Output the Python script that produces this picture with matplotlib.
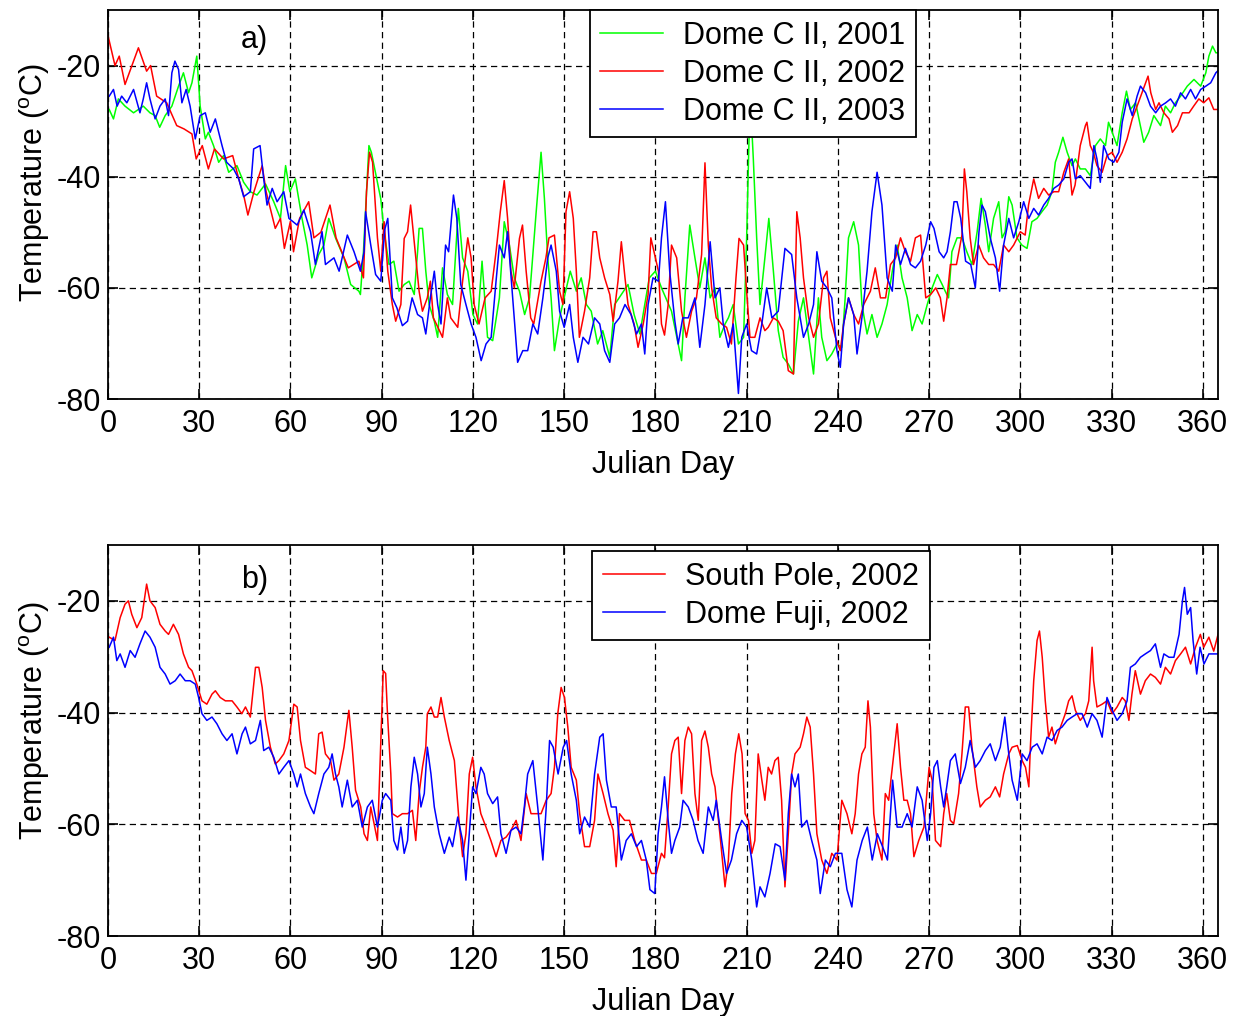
import numpy as np
import matplotlib
matplotlib.use('Agg')
import matplotlib.pyplot as plt

plt.rcParams['font.family'] = ['Liberation Sans', 'DejaVu Sans']
plt.rcParams['mathtext.default'] = 'regular'
plt.rcParams['axes.unicode_minus'] = False

# (julian day, temperature degC)
dome_c_2001 = [
    (0.4, -27.9), (1.8, -29.6), (3.4, -26), (5.6, -27.3), (8.4, -28.5), (11.6, -27.3), (13.8, -28.5),
    (15.5, -29), (17, -31.1), (18.8, -29), (21, -27.3), (23.2, -23.7), (24.8, -21.3), (26.5, -24.9),
    (27.6, -23.1), (29.2, -18.3), (30.3, -27.3), (32, -33.2), (33, -32), (34.7, -34.4), (36.4, -37.4),
    (38, -36.2), (39.7, -39.2), (42.4, -38), (44.6, -41), (46.8, -42.7), (49, -43.3), (51.8, -41.3),
    (54.5, -44.5), (56.7, -47.5), (58.4, -38), (59.8, -42.7), (61.6, -40.4), (63.8, -47.5), (65.5, -52.3),
    (67, -58.2), (69.3, -54), (71, -52.3), (72.6, -47.5), (74.8, -51), (77.6, -54.6), (79.8, -59.4),
    (82.5, -60.6), (83, -61.2), (84, -53.5), (85, -42.7), (85.8, -34.4), (86.6, -35.6), (88.6, -41),
    (89.7, -44), (90.8, -49.9), (92.4, -55.8), (94, -55.2), (95.7, -60.6), (97.4, -59.4), (99, -58.8),
    (100.7, -61.2), (101.8, -53.5), (102.3, -49.3), (103.4, -49.3), (104.5, -57), (105.6, -63),
    (107.3, -66), (108.4, -68.9), (110, -56.4), (111.6, -61.2), (113.3, -63), (115.2, -45.7),
    (116.6, -54.6), (118.3, -57), (120, -64.8), (121.5, -66.5), (123, -55.2), (124.8, -68.9),
    (126.5, -69.5), (128.7, -61.8), (130.3, -48.1), (132, -52.3), (133.6, -58.2), (135.3, -60.6),
    (137, -64.8), (138.6, -61.8), (140.8, -46.3), (142.4, -35.6), (143.5, -43.9), (144.6, -54.6),
    (145.7, -61.8), (146.8, -71.3), (148.5, -65.4), (150, -61.8), (152, -57), (154, -60.6),
    (155.6, -58.2), (157.3, -63), (158.9, -64.2), (161, -70.1), (162.7, -67.7), (165, -72.5),
    (166.6, -63), (168.8, -61.2), (171, -59.4), (173, -64.8), (174.9, -68.3), (176.5, -63), (178, -58.2),
    (180, -57), (182, -60), (185.3, -64.2), (188.6, -73.1), (189.7, -61.8), (191.3, -48.7), (193, -54.6),
    (194.6, -60), (196.3, -54.6), (198, -61.8), (199.6, -60), (201.2, -68.9), (202.9, -66.5), (204, -65.4),
    (205.6, -63), (207.3, -70.1), (209, -68.9), (210, -51.1), (210.8, -33), (211.4, -28), (212.2, -36.8),
    (213.3, -51), (214.4, -63), (216, -54.6), (217.3, -47.5), (218.8, -57), (220.4, -67.7), (222, -72.5),
    (223.7, -73.7), (225.4, -75.5), (227, -66), (228.7, -61.8), (230.4, -68.9), (232, -75.5),
    (233.6, -61.8), (234.7, -68.9), (236.4, -73.1), (238, -71.9), (239.7, -70.1), (241.3, -70.7),
    (242.4, -61.8), (243.5, -51), (245.2, -48.1), (246.8, -52.3), (247.9, -63), (249.6, -68.3),
    (251.2, -64.8), (252.9, -68.9), (254.5, -66.5), (256.2, -63), (257.9, -57), (259.5, -52.3),
    (261.1, -58.2), (262.8, -61.8), (264.4, -67.7), (266.1, -64.8), (267.7, -66.5), (269.4, -63),
    (271, -60), (272.7, -57.6), (274.3, -59.4), (275.3, -60.6), (276.4, -61.8), (277.5, -53.5),
    (279.2, -51), (280.8, -51), (282.4, -53.5), (284.1, -55.8), (285.8, -49.9), (287.1, -43.9),
    (288.5, -48.7), (289.6, -53.5), (291.2, -47.5), (292.9, -44.5), (294, -51), (295, -49.9),
    (296.2, -43.6), (297.3, -45.1), (298.9, -51), (300.5, -52.3), (302.2, -52.9), (303.8, -48.1),
    (305.5, -47.5), (307.1, -46.3), (308.8, -45.1), (310.4, -42.7), (311.5, -37.4), (312.6, -35.6),
    (314, -32.9), (315.4, -35.6), (317, -38), (318.1, -36.8), (319.7, -38.6), (321.4, -38.6),
    (323, -39.8), (324.7, -34.4), (326.3, -33.2), (328, -34.4), (329, -30.2), (330.2, -32),
    (331.8, -34.4), (333.5, -28.5), (334.9, -24.6), (336.2, -27.9), (337.9, -26.7), (339, -29.6),
    (340.6, -33.8), (342.2, -32), (343.9, -29), (346.1, -30.8), (347.7, -27.3), (349.4, -28.5),
    (351, -26.7), (352.7, -25.5), (354.9, -23.7), (357.1, -22.5), (359.3, -23.7), (361, -21.3),
    (362, -18.3), (363.2, -16.5), (364.3, -17.7), (365.4, -17.7),
]

dome_c_2002 = [
    (0, -14.6), (2.3, -20), (3.7, -18.3), (5.6, -23.4), (10, -16.8), (12.7, -21), (14, -20), (16, -25.5),
    (19.3, -26.7), (22.6, -30.8), (25, -31.4), (27.6, -32.3), (29, -36.8), (31, -34.4), (33, -38.6),
    (35, -35), (38, -36.8), (41, -36.2), (43, -40.4), (44.6, -43.3), (46, -46.9), (48, -42.7),
    (50.7, -38), (52, -42.7), (55, -49.3), (56.7, -47.5), (58, -52.9), (60, -48), (61, -53.5),
    (63, -47.5), (66, -44.5), (67.7, -51), (70, -50), (73, -45.1), (75, -51), (79, -56.4),
    (82.5, -55.2), (84, -58.2), (85, -42.7), (86, -35.6), (87, -37.4), (88.6, -51), (89.7, -57),
    (90.8, -48.1), (92, -57), (93.5, -63), (94.6, -66), (96.3, -63), (97.4, -51.1), (98.5, -49.9),
    (99.5, -45.1), (101, -53.5), (102.3, -60.6), (103.4, -64.2), (105, -61.8), (106, -58.8),
    (107, -65.4), (109, -67.7), (110, -68.9), (111.6, -61.8), (112.7, -65.4), (115, -67.1),
    (116.6, -58.8), (118.3, -51), (119.4, -54.6), (120.4, -63), (122, -66.5), (124, -61.8),
    (126, -60.6), (127.6, -53.5), (129, -46.3), (130.3, -40.7), (131.4, -47.5), (132.5, -57),
    (133.6, -60), (135.3, -51.1), (136.3, -48.7), (137.5, -57), (139, -65.4), (140, -66.5),
    (142.4, -58.8), (144, -54.6), (145, -51), (146.8, -50.5), (148.5, -60.6), (149.6, -63),
    (150.6, -46.3), (151.8, -42.7), (153, -47.5), (154, -57), (155, -68.9), (156.7, -64.2),
    (158.4, -58.2), (159.5, -49.9), (160.6, -49.9), (161.7, -54.6), (163.3, -58.2), (165, -61.2),
    (166.1, -66), (167.7, -58.8), (168.8, -51.7), (170, -58.2), (171, -63), (173, -66.5),
    (174.3, -70.7), (176, -66.5), (177.6, -61.2), (178.5, -51), (180, -54.6), (181, -57),
    (182, -66.5), (183, -68.5), (184.2, -63), (185.3, -52.3), (187, -54.6), (188.6, -64.2),
    (190.2, -68.9), (191.9, -64.2), (193.5, -61.8), (195.2, -54), (196.3, -37.5), (197.4, -52.3),
    (198.5, -60), (200, -65.4), (201.8, -66.5), (203.4, -67.1), (205, -70.1), (206.5, -58.2),
    (207.5, -51.1), (209, -52.3), (210, -60.6), (211.1, -68.9), (212.7, -68.9), (214.4, -65.4),
    (216, -67.7), (217.1, -67.1), (218.8, -65.4), (220.4, -66), (222, -67.7), (223.7, -74.9),
    (225.4, -75.5), (226.5, -46.3), (227.6, -51), (228.7, -58.2), (230.4, -65.4), (232, -68.9),
    (233.6, -66.5), (235.3, -58.2), (236.4, -57), (237.5, -65.4), (239.2, -68.9), (240.8, -71.3),
    (241.9, -66.5), (243.5, -61.8), (245.2, -64.8), (246.8, -66.5), (248.5, -63), (250.7, -60.6),
    (252.3, -56.4), (254, -61.8), (255.7, -61.8), (257.3, -55.8), (259, -54.6), (260.6, -51),
    (262.2, -53.5), (263.9, -55.2), (265.5, -51), (267.2, -50.5), (268.9, -61.8), (270.5, -61.2),
    (272.2, -60), (273.7, -61.8), (274.8, -66), (275.9, -61.8), (277, -55.8), (279, -55.8),
    (280.8, -50.5), (281.6, -38.6), (282.4, -42.7), (283.5, -51), (284.6, -55.8), (286.3, -52.3),
    (287.9, -54.6), (289.6, -55.8), (291.2, -55.8), (292.9, -57), (294.5, -52.3), (296.2, -53.5),
    (297.8, -52.3), (300, -49.9), (301.6, -50.5), (302.7, -45.1), (304.4, -40.4), (306, -43.9),
    (307.7, -42.1), (309.3, -43.3), (311, -42.7), (312.6, -42.7), (314.3, -39.2), (315.9, -36.8),
    (317, -43.3), (318, -41.5), (319.7, -34.4), (321.4, -30.8), (321.9, -30.2), (323, -34.4),
    (324, -35.6), (325.2, -38), (326.9, -39.2), (328.5, -36.2), (330.2, -35.6), (331.8, -37.4),
    (333.5, -35.6), (335.1, -33.2), (336.8, -29.6), (338.4, -27.3), (340, -24.9), (342, -21.9),
    (342.9, -24.9), (344.5, -27.9), (345.6, -26.7), (347.2, -28.5), (348.9, -29.6), (350, -32),
    (351.7, -30.8), (353.3, -28.5), (355.5, -28.5), (357, -27.3), (358.7, -26), (360.3, -26.7),
    (362, -25.8), (363.6, -27.9), (365.2, -27.9),
]

dome_c_2003 = [
    (0.4, -25.5), (1.8, -24.3), (3, -27.3), (4.5, -25.5), (6.2, -26.7), (8.4, -24.3), (10.5, -28.5),
    (11.6, -26), (12.7, -23.1), (13.8, -26), (15.5, -29.6), (17.1, -27.3), (18.8, -26), (19.9, -29),
    (21, -21.3), (22, -19.2), (23.2, -20.7), (24.3, -26.7), (25.7, -24.3), (27, -27.3), (28.7, -33.2),
    (30.3, -29), (32, -28.5), (33.6, -32), (35.3, -29.6), (37.5, -34.4), (39, -37.4), (41.3, -38.6),
    (43, -40.4), (44.6, -43.6), (46.8, -42.7), (47.9, -35), (50, -34.4), (51.2, -40.4), (52.3, -45.1),
    (54, -42.1), (55.6, -44.5), (57.8, -42.7), (59.5, -47.5), (62.2, -48.7), (64.4, -46), (66.6, -49.9),
    (68.2, -55.8), (70.4, -49.9), (71.5, -55.8), (74.3, -54.6), (76, -57), (78.7, -50.5), (80.9, -53.5),
    (83, -57), (84.2, -53.5), (84.7, -46.3), (86.4, -52.3), (88, -57.6), (89.7, -58.8), (91, -49.5),
    (92, -47.5), (93.5, -61.8), (95, -63.6), (96.8, -66.8), (98.5, -66), (100, -61.8), (101.8, -64.8),
    (103.4, -65.4), (104.5, -68.3), (106, -61.8), (107.3, -57), (108.4, -63), (109.5, -66.5),
    (111, -52.3), (112, -53.5), (113.6, -43.3), (114.7, -47.5), (116, -59.4), (117.7, -63),
    (119.4, -66.5), (121, -68.9), (122.7, -73.1), (124.3, -70.1), (126, -68.9), (127.6, -58.8),
    (128.7, -52.3), (130.3, -54.6), (131.4, -49.9), (133, -61.2), (134.7, -73.4), (136.4, -71.3),
    (138, -71.3), (139.7, -66.5), (141.3, -68.3), (143, -61.8), (144.6, -54.6), (145.7, -52.3),
    (147.4, -57), (148.5, -64.2), (150, -67.1), (151.8, -63), (153, -68.9), (154.5, -73.4),
    (156.2, -68.9), (158, -70.1), (160, -65.4), (161.7, -66.5), (163.3, -71.3), (165, -73.4),
    (166.6, -66.5), (168.2, -65.4), (170, -63), (172, -64.8), (173.8, -68.3), (175.4, -66.5),
    (176.5, -71.9), (177.6, -63), (179.2, -58.2), (181, -58.8), (182, -51), (183.3, -44.5),
    (184.7, -57), (186.4, -66), (187.5, -70.1), (189, -65.4), (190.8, -65.4), (193, -61.8),
    (194.6, -70.7), (196.3, -63), (198, -51.7), (199.6, -61.8), (201.2, -60), (202.3, -66.5),
    (204, -70.7), (205.6, -66.5), (207.3, -79), (208.4, -68.9), (210, -66.5), (211.6, -71.3),
    (213.3, -71.9), (215, -66.5), (216.6, -60), (218.3, -65.4), (220.4, -64.2), (222.6, -52.9),
    (224.8, -54), (226.5, -61.8), (228.7, -68.9), (230.4, -66.5), (232, -63), (233.1, -53.5),
    (234.7, -58.8), (236.4, -60), (238, -61.8), (239.7, -71.3), (240.8, -74.3), (241.9, -66.5),
    (243.5, -61.8), (245.2, -64.8), (246.3, -71.9), (247.9, -65.4), (249.6, -57), (251.2, -46.3),
    (252.9, -39.2), (254.5, -45.1), (256.2, -58.2), (257.9, -60.6), (259, -52.3), (260.6, -55.8),
    (262.2, -52.9), (263.9, -55.8), (265.5, -56.4), (267.2, -55.2), (268.9, -52.3), (270.5, -48.1),
    (271.6, -49.3), (273.3, -53.5), (274.8, -54.6), (275.9, -53.5), (277, -49.9), (278.2, -44.5),
    (279.2, -44.5), (280.4, -47.5), (282, -55.2), (283.7, -55.8), (285.2, -60), (286.4, -49.9),
    (287.4, -45.1), (288.5, -46.3), (290.1, -51), (291.8, -54.6), (293.2, -60.6), (294.5, -52.3),
    (296.2, -47.5), (297.8, -51), (299.5, -48.1), (301.1, -44.5), (302.8, -47.5), (304.4, -45.7),
    (306, -46.9), (307.7, -45.1), (309.3, -43.9), (311, -42.1), (312.6, -41.5), (314.3, -40.4),
    (315.9, -37.4), (317, -36.8), (318.1, -40.4), (319.7, -39.8), (321.4, -41), (323, -42.1),
    (324.2, -34.4), (325.2, -36.8), (326.3, -41), (327.4, -34.4), (329.1, -36.8), (330.7, -37.4),
    (332.4, -35.6), (333.5, -30.2), (335.1, -26), (336.8, -29), (338.4, -25.5), (339.5, -23.7),
    (341.2, -24.9), (342.8, -27.3), (344.5, -28.5), (346.1, -27.3), (347.8, -26.7), (349.4, -26),
    (351, -27.3), (352.7, -24.9), (354.3, -26), (356, -24.3), (357.6, -26), (359.3, -24.3),
    (361, -23.7), (362.6, -23.1), (364.3, -21.3), (365.4, -20.7),
]

south_pole_2002 = [
    (0.4, -26.5), (2.3, -27.1), (4, -23), (5.6, -20.6), (6.7, -20), (7.8, -22.4), (9.5, -24.8),
    (11.1, -23), (12.7, -17), (13.8, -20), (15.5, -21.2), (17.1, -24.2), (18.8, -25.4), (19.9, -26),
    (21.5, -24.2), (23.2, -26), (24.8, -29.5), (26.5, -31.9), (27.6, -32.5), (29.2, -34.9),
    (30.9, -37.9), (32.5, -38.5), (34.2, -36.7), (35.3, -36.1), (36.9, -37.3), (38.6, -37.9),
    (40.8, -37.9), (42.4, -39), (44, -40.2), (45.2, -39), (46.8, -40.8), (48.5, -31.9), (49.6, -31.9),
    (50.7, -35.5), (51.8, -41.4), (53.4, -46.2), (55, -49.2), (56.2, -48.6), (57.8, -47.4), (59.5, -45),
    (61.1, -38.5), (62.2, -39), (63.3, -45), (64.9, -49.8), (66.6, -50.4), (68.2, -51), (69.3, -43.8),
    (70.4, -43.5), (71.5, -47.4), (73.2, -48.6), (74.3, -52.1), (75.9, -51), (77.6, -46.2),
    (79.2, -39.6), (80.3, -46.2), (81.4, -53.9), (83.1, -56.9), (84.2, -61.7), (85.3, -62.9),
    (86.4, -56.9), (87.5, -59.9), (88.6, -62.9), (89.7, -45), (90.5, -32.5), (91.3, -33), (91.9, -40.2),
    (93, -51), (93.5, -58.1), (95.2, -58.7), (96.8, -58.1), (98.5, -58.1), (100.1, -57.5),
    (101.2, -62.9), (102.3, -54.5), (103.4, -49.8), (104.5, -46.2), (105, -40.2), (106.2, -39),
    (107.3, -40.8), (108.4, -40.8), (109.5, -37.3), (110.6, -40.8), (112.2, -45), (113.9, -48.6),
    (115.5, -59.9), (116.6, -65.8), (117.7, -61.7), (118.8, -51), (119.9, -48), (121, -53.3),
    (122.6, -58.1), (124.3, -60.5), (125.9, -62.9), (127.6, -65.8), (129.2, -62.9), (130.9, -62.3),
    (132.5, -61.1), (134.2, -59.3), (135.8, -62.9), (137.5, -54.5), (139.1, -58.1), (140.8, -58.1),
    (142.4, -58.1), (144.1, -55.7), (145.7, -54.5), (146.8, -49.8), (147.9, -40.2), (149, -35.5),
    (150.1, -37.3), (151.2, -42.6), (152.3, -49.8), (154, -52.1), (155.1, -58.1), (156.7, -64),
    (158.4, -64), (160, -59.3), (161.1, -51), (162.8, -54.5), (164.4, -58.1), (166.1, -61.1),
    (167.1, -67.6), (168.2, -58.1), (169.9, -59.3), (171.5, -59.3), (173.2, -62.9), (175.4, -66.4),
    (177, -66.4), (178.7, -68.8), (180.3, -68.8), (182, -65.2), (183, -66), (184.2, -56.9),
    (185.3, -47.4), (186.4, -45), (187.5, -44.4), (188.6, -54.5), (189.7, -45), (190.8, -42.6),
    (191.9, -43.8), (193, -54.5), (194.1, -59.3), (195.2, -45), (196.3, -43.3), (197.4, -46.2),
    (198.5, -51), (199.6, -53.3), (201.2, -61.7), (202.9, -71.2), (204, -66.4), (205.1, -54.5),
    (206.3, -47.4), (207.4, -43.8), (208.5, -47.4), (209.5, -58.1), (210.6, -59.3), (211.7, -65.2),
    (212.7, -62.9), (213.8, -47.4), (215, -52.1), (216, -55.7), (217.1, -49.8), (218.2, -51),
    (219.3, -48.6), (220.4, -48), (221.5, -55.7), (222.6, -71.2), (223.7, -61.7), (224.8, -51),
    (225.9, -47.4), (227.6, -46.2), (228.7, -43.8), (229.8, -40.8), (230.9, -42.6), (232, -51),
    (233.1, -61.7), (234.7, -66.4), (236.4, -68.8), (238, -65.2), (239.7, -66.4), (241.3, -55.7),
    (243, -58.1), (244.6, -61.7), (245.7, -58.1), (246.8, -51), (247.9, -47.4), (249, -46.2),
    (249.9, -37.9), (250.7, -42.6), (251.8, -58.1), (252.9, -62.9), (254.5, -66.4), (255.6, -54.5),
    (256.7, -55.7), (258.4, -47.4), (259.5, -42), (260.6, -49.8), (261.7, -55.7), (262.8, -55.7),
    (263.9, -58.1), (265, -65.8), (266.6, -62.9), (268.3, -60.5), (270, -49.8), (271, -52.1),
    (272.1, -62.9), (273.8, -64), (274.8, -58.1), (275.8, -54.5), (277, -59.3), (278.1, -59.9),
    (279.7, -54.5), (280.8, -47.4), (281.9, -39), (283, -39), (284.1, -46.2), (285.7, -53.3),
    (286.8, -56.9), (288.5, -55.7), (290.1, -55.1), (291.8, -53.3), (293.2, -55.1), (294.5, -51),
    (296.2, -47.4), (297.3, -46.2), (299, -45.9), (300.6, -48.6), (301.7, -49.8), (302.8, -53.3),
    (303.3, -46.2), (304.4, -34.3), (305.5, -27.1), (306.3, -25.4), (307.2, -30.1), (308.2, -37.9),
    (309.3, -44.4), (310.4, -42.6), (311.5, -45.6), (313.2, -42.6), (314.8, -40.2), (315.9, -37.9),
    (317, -37), (318.1, -39.6), (319.7, -41.4), (321.4, -40.2), (322.5, -37.9), (323.6, -28.3),
    (324.1, -34.3), (325.2, -39), (326.9, -38.5), (328.5, -37.9), (330.2, -40.2), (331.8, -39),
    (333.5, -37.3), (334.5, -37.9), (335.7, -41.4), (336.7, -36.7), (337.8, -32.5), (339.5, -36.7),
    (341.1, -34.3), (342.8, -33.1), (344.4, -33.7), (346.1, -34.9), (347.7, -31.9), (349.4, -33.1),
    (351, -30.7), (352.7, -29.5), (354.3, -28.3), (356, -31.3), (357.6, -28.3), (359.2, -26),
    (360.3, -28.3), (362, -26.5), (363.6, -29), (365.3, -25.4),
]

dome_fuji_2002 = [
    (0.4, -28.3), (1.8, -26.5), (2.9, -30.7), (4, -29.5), (5.6, -31.9), (7.3, -28.9), (8.9, -30.1),
    (10.5, -27.7), (12.2, -25.4), (13.8, -26.5), (15.5, -28.3), (17.1, -31.9), (18.8, -33.1),
    (20.4, -34.9), (22.1, -34.3), (23.7, -33.1), (25.4, -34.3), (27, -34.3), (28.7, -34.9),
    (29.8, -37.3), (30.9, -40.2), (32.5, -41.4), (34.2, -40.8), (35.8, -42), (37.5, -43.8),
    (39.1, -45), (40.8, -43.8), (42.4, -47.4), (44.1, -43.8), (45.2, -42.6), (46.8, -45.6),
    (48.5, -45), (50.1, -41.4), (51.2, -46.8), (52.9, -46.2), (54.5, -48), (56.2, -51), (57.8, -49.8),
    (59.5, -48.6), (61.1, -51), (62.2, -53.3), (63.3, -51), (64.9, -54.5), (66.6, -56.9), (67.7, -58.1),
    (69.3, -54.5), (71, -51), (72.6, -49.8), (73.7, -47.4), (74.8, -51), (75.9, -53.3), (77, -56.9),
    (78.7, -52.1), (80.3, -56.9), (82, -55.7), (83.6, -60.5), (85.3, -56.9), (86.9, -55.7),
    (88.6, -60.5), (90.2, -55.7), (91.3, -54.5), (93, -55.7), (94, -62.9), (95.2, -64.6), (96.3, -60.5),
    (97.4, -65.2), (98.5, -62.9), (99.6, -53.3), (100.7, -48), (101.8, -51), (102.9, -56.9),
    (104, -54.5), (105, -46.2), (106.2, -51), (107.3, -56.9), (108.9, -61.7), (110.6, -65.2),
    (112.2, -62.3), (113.3, -64), (115, -58.7), (116.6, -62.9), (117.7, -70), (118.8, -61.7),
    (119.9, -53.3), (121, -54.5), (122.6, -49.8), (123.7, -51), (124.8, -54.5), (126.5, -56.3),
    (128.1, -55.1), (129.2, -61.7), (130.9, -65.2), (132.5, -61.1), (134.2, -60.5), (135.8, -61.7),
    (136.9, -56.9), (138, -51), (139.7, -48.6), (141.3, -56.9), (143, -66.4), (144.1, -56.9),
    (145.2, -45), (146.4, -46.2), (148, -51), (149.7, -46.2), (150.8, -45), (152.3, -51), (154, -55.7),
    (155.1, -61.7), (156.7, -58.7), (158.4, -60.5), (160, -51), (161.7, -44.4), (162.8, -43.8),
    (163.9, -52.1), (165.5, -56.9), (167.1, -56.9), (168.8, -66.4), (170.4, -62.9), (172.1, -61.7),
    (173.8, -64), (175.4, -62.9), (177, -66.4), (178.2, -71.7), (179.8, -72.4), (180.9, -61.7),
    (182, -56.9), (183, -51.5), (184.2, -59.3), (185.3, -65.2), (186.4, -62.9), (188, -60.5),
    (189.1, -55.7), (190.8, -56.9), (192.4, -59.3), (194, -62.9), (195.7, -65.2), (197.4, -56.9),
    (199, -59.3), (200, -55.7), (201.8, -62.9), (203.4, -68.8), (205, -66.4), (206.7, -61.7),
    (208.4, -59.3), (210, -60.5), (211.7, -66.4), (213.3, -74.8), (214.4, -71.2), (216, -73),
    (217.7, -68.8), (219.4, -63.5), (221, -64), (222.6, -70), (223.7, -58.1), (224.8, -51),
    (225.9, -53.3), (227, -51), (228.1, -60.5), (229.8, -59.3), (231.4, -62.9), (233.1, -66.4),
    (234.2, -72.4), (235.9, -66.4), (237.5, -67.6), (239.2, -65.2), (241.3, -65.2), (243, -71.7),
    (244.6, -74.8), (246.3, -66.4), (248, -62.9), (249.7, -60.5), (251.3, -66.4), (253, -61.7),
    (254.7, -64), (256.3, -66.4), (258, -52.1), (259.5, -60.5), (261.1, -60.5), (262.8, -58.1),
    (264.4, -60.5), (266.1, -53.3), (267.7, -55.7), (269.4, -62.9), (270.5, -58.1), (271.6, -49.8),
    (272.7, -48.6), (273.8, -53.3), (274.8, -56.9), (275.8, -53.3), (277, -48.6), (278.6, -47.4),
    (280.3, -52.7), (281.9, -49.8), (283.5, -45), (285.2, -49.8), (286.8, -48.6), (288.5, -46.8),
    (290.1, -45.6), (291.8, -48.6), (293.4, -46.2), (294.9, -40.8), (296.2, -47.4), (297.3, -52.1),
    (299, -55.7), (300.6, -47.4), (302.2, -48.6), (303.9, -46.2), (305.5, -45.6), (307.2, -47.4),
    (308.8, -44.4), (310.4, -45), (312.1, -43.2), (313.7, -42.6), (315.4, -41.4), (317, -40.8),
    (318.7, -40.2), (320.3, -40.2), (322, -42.6), (323.6, -40.2), (325.2, -41.4), (326.9, -44.4),
    (328.5, -37.3), (330.2, -39.6), (331.8, -41.4), (333.5, -40.2), (335.1, -37.9), (336.2, -31.9),
    (337.8, -31.3), (339.5, -30.1), (341.1, -29.5), (342.8, -28.9), (344.4, -27.7), (346.1, -31.9),
    (347.2, -29.5), (348.9, -30.1), (350.5, -30.1), (352.2, -26), (353.3, -20), (354, -17.6),
    (354.9, -22.4), (356, -21.2), (356.8, -27.1), (358, -33.1), (359.1, -28.3), (360.4, -31.3),
    (362, -29.5), (363.7, -29.5), (365.3, -29.5),
]

panel_a = [('Dome C II, 2001', dome_c_2001, '#00ff00'),
           ('Dome C II, 2002', dome_c_2002, '#ff0000'),
           ('Dome C II, 2003', dome_c_2003, '#0000ff')]
panel_b = [('South Pole, 2002', south_pole_2002, '#ff0000'),
           ('Dome Fuji, 2002', dome_fuji_2002, '#0000ff')]

FS = 22
W, H = 1235, 1016


def setup_axes(ax, ylab_y):
    ax.set_xlim(0, 365)
    ax.set_ylim(-80, -10)
    ax.set_xticks(np.arange(0, 361, 30))
    ax.set_yticks([-80, -60, -40, -20])
    ax.grid(True, color='k', linestyle=(0, (5, 3.5)), linewidth=0.9)
    ax.tick_params(direction='in', length=7, width=1.2, top=True, right=True,
                   labelsize=FS)
    ax.tick_params(axis='x', pad=7)
    ax.tick_params(axis='y', pad=5)
    for sp in ax.spines.values():
        sp.set_linewidth(1.3)
    ax.set_xlabel('Julian Day', fontsize=FS, labelpad=8)
    ax.set_ylabel('Temperature ($^o$C)', fontsize=FS)
    ax.yaxis.set_label_coords(-0.05, ylab_y)


def draw_panel(ax, series):
    for label, pts, color in series:
        d, t = np.array(pts).T
        ax.plot(d, t, color=color, lw=1.1, label=label)


fig = plt.figure(figsize=(W / 100, H / 100), dpi=100)
ax1 = fig.add_axes([108 / W, 1 - 399 / H, 1110 / W, 389 / H])
ax2 = fig.add_axes([108 / W, 1 - 936 / H, 1110 / W, 391 / H])

for ax, series, anchor, tag, tag_y, ylab_y in [
        (ax1, panel_a, (0.434, 1.0), 'a)', 0.923, 0.555),
        (ax2, panel_b, (0.436, 0.985), 'b)', 0.910, 0.55)]:
    setup_axes(ax, ylab_y)
    draw_panel(ax, series)
    leg = ax.legend(loc='upper left', bbox_to_anchor=anchor, fontsize=FS,
                    frameon=True, fancybox=False, edgecolor='k', framealpha=1,
                    borderaxespad=0, handlelength=2.05, handletextpad=0.65,
                    labelspacing=0.26, borderpad=0.35)
    leg.get_frame().set_linewidth(1.3)
    ax.text(0.132, tag_y, tag, transform=ax.transAxes, fontsize=FS,
            ha='center', va='center')

fig.savefig('out.png', dpi=100)
